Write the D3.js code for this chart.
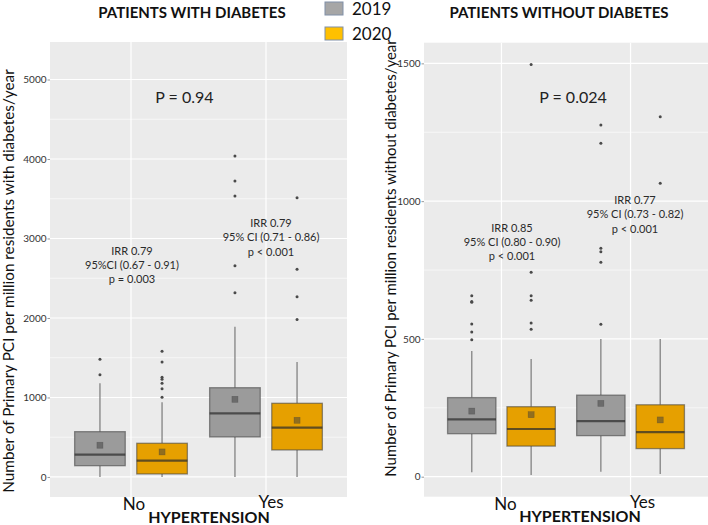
<!DOCTYPE html>
<html><head><meta charset="utf-8">
<script src="https://cdn.jsdelivr.net/npm/d3@7"></script>
<style>body{margin:0;background:#fff}svg{display:block}text{font-family:Lato,"Open Sans",sans-serif}</style>
</head><body><svg id="c" width="708" height="525"></svg>
<script>
const categories = ["No", "Yes"];
const years = ["2019", "2020"];
const yearColors = ["#9b9b9b", "#e6a000"];
const legendColors = ["#a6a6a6", "#ffc000"];

// Patients with diabetes: [No, Yes] per year
const diab2019 = [
  {lo: 0, q1: 142, med: 281, q3: 570, hi: 1180, mean: 399},
  {lo: 0, q1: 503, med: 801, q3: 1123, hi: 1891, mean: 977}
];
const diab2020 = [
  {lo: 0, q1: 38, med: 205, q3: 424, hi: 940, mean: 315},
  {lo: 0, q1: 340, med: 620, q3: 927, hi: 1447, mean: 713}
];
const diabOut2019 = [[1480, 1287], [4038, 3723, 3535, 2658, 2318]];
const diabOut2020 = [[1581, 1447, 1254, 1229, 1179, 1111, 1002], [3513, 2613, 2268, 1980]];
const diabTicks = [0, 1000, 2000, 3000, 4000, 5000];

// Patients without diabetes
const nodiab2019 = [
  {lo: 16, q1: 156, med: 208, q3: 287, hi: 456, mean: 238},
  {lo: 18, q1: 149, med: 202, q3: 296, hi: 500, mean: 266}
];
const nodiab2020 = [
  {lo: 6, q1: 111, med: 173, q3: 254, hi: 427, mean: 225},
  {lo: 10, q1: 102, med: 162, q3: 261, hi: 500, mean: 206}
];
const nodiabOut2019 = [[657, 636, 633, 554, 525, 497], [1276, 1210, 829, 816, 778, 553]];
const nodiabOut2020 = [[1496, 742, 657, 640, 558, 535], [1306, 1065]];
const nodiabTicks = [0, 500, 1000, 1500];

const titles = ["PATIENTS WITH DIABETES", "PATIENTS WITHOUT DIABETES"];
const yTitles = ["Number of Primary PCI per million residents with diabetes/year",
                 "Number of Primary PCI per million residents without diabetes/year"];
const pTexts = ["P = 0.94", "P = 0.024"];
const irrDiab = [["IRR 0.79", "95%CI (0.67 - 0.91)", "p =  0.003"], ["IRR 0.79", "95% CI (0.71 - 0.86)", "p < 0.001"]];
const irrNoDiab = [["IRR 0.85", "95% CI (0.80 - 0.90)", "p <  0.001"], ["IRR 0.77", "95% CI (0.73 - 0.82)", "p < 0.001"]];
const xTitle = "HYPERTENSION";

const svg = d3.select("#c");

function panel(cfg) {
  const g = svg.append("g");
  const x = d3.scalePoint().domain(categories).range([cfg.x0, cfg.x1]).padding(0.6);
  const y = d3.scaleLinear().domain(cfg.yDomain).range([cfg.y1, cfg.y0]);
  const step = x.step();
  g.append("rect").attr("x", cfg.x0).attr("y", cfg.y0).attr("width", cfg.x1 - cfg.x0)
    .attr("height", cfg.y1 - cfg.y0).attr("fill", "#ebebeb");
  g.selectAll(".mg").data(cfg.minor).join("line")
    .attr("x1", cfg.x0).attr("x2", cfg.x1).attr("y1", d => y(d)).attr("y2", d => y(d))
    .attr("stroke", "#fff").attr("stroke-width", 0.6);
  g.selectAll(".Mg").data(cfg.ticks).join("line")
    .attr("x1", cfg.x0).attr("x2", cfg.x1).attr("y1", d => y(d)).attr("y2", d => y(d))
    .attr("stroke", "#fff").attr("stroke-width", 1.2);
  g.selectAll(".vg").data(categories).join("line")
    .attr("x1", d => x(d)).attr("x2", d => x(d)).attr("y1", cfg.y0).attr("y2", cfg.y1)
    .attr("stroke", "#fff").attr("stroke-width", 1.2);
  const ax = g.append("g").attr("transform", `translate(${cfg.x0},0)`)
    .call(d3.axisLeft(y).tickValues(cfg.ticks).tickFormat(d3.format("d")).tickSize(2.5).tickPadding(1));
  ax.select(".domain").remove();
  ax.selectAll("line").attr("stroke", "#999");
  ax.selectAll("text").attr("font-size", 10).attr("fill", "#333").style("font-family", "Lato, sans-serif");

  const off = 0.23 * step, bw = 0.375 * step;
  [cfg.s2019, cfg.s2020].forEach((stats, yi) => {
    const outs = yi === 0 ? cfg.o2019 : cfg.o2020;
    stats.forEach((s, ci) => {
      const cx = x(categories[ci]) + (yi === 0 ? -off : off);
      const bg = g.append("g");
      bg.append("line").attr("x1", cx).attr("x2", cx).attr("y1", y(s.q3)).attr("y2", y(s.hi))
        .attr("stroke", "#8a8a8a").attr("stroke-width", 1.4);
      bg.append("line").attr("x1", cx).attr("x2", cx).attr("y1", y(s.q1)).attr("y2", y(s.lo))
        .attr("stroke", "#8a8a8a").attr("stroke-width", 1.4);
      bg.append("rect").attr("x", cx - bw / 2).attr("y", y(s.q3)).attr("width", bw)
        .attr("height", y(s.q1) - y(s.q3)).attr("fill", yearColors[yi])
        .attr("stroke", "rgba(60,60,60,0.55)").attr("stroke-width", 1.3);
      bg.append("line").attr("x1", cx - bw / 2).attr("x2", cx + bw / 2)
        .attr("y1", y(s.med)).attr("y2", y(s.med))
        .attr("stroke", "rgba(45,45,45,0.72)").attr("stroke-width", 2.2);
      bg.append("rect").attr("x", cx - 3).attr("y", y(s.mean) - 3).attr("width", 6).attr("height", 6)
        .attr("fill", "rgba(60,60,60,0.5)").attr("stroke", "rgba(60,60,60,0.4)").attr("stroke-width", 0.6);
      bg.selectAll("circle").data(outs[ci]).join("circle")
        .attr("cx", cx).attr("cy", d => y(d)).attr("r", 1.5).attr("fill", "#4a4a4a");
    });
  });
  svg.append("text").attr("x", (cfg.x0 + cfg.x1) / 2 + cfg.pdx).attr("y", 103)
    .attr("text-anchor", "middle").attr("font-size", 16).attr("fill", "#222").text(cfg.p);
  cfg.irr.forEach((lines, ci) => {
    lines.forEach((t, li) => {
      svg.append("text").attr("x", cfg.irrX[ci]).attr("y", cfg.irrY[ci] + li * cfg.irrGap[ci])
        .attr("dominant-baseline", "central").attr("text-anchor", "middle")
        .attr("font-size", 11).attr("fill", "#2a2a2a").text(t);
    });
  });
  svg.append("text").attr("x", cfg.titleX).attr("y", 18).attr("text-anchor", "middle")
    .attr("font-size", 15).attr("font-weight", "bold").attr("fill", "#111").text(cfg.title);
  svg.append("text").attr("transform", `translate(${cfg.ytX},${cfg.ytY}) rotate(-90)`)
    .attr("text-anchor", "middle").attr("font-size", cfg.ytSize).attr("fill", "#111").text(cfg.yTitle);
  categories.forEach((c, ci) => {
    svg.append("text").attr("x", x(c) + cfg.labDx[ci]).attr("y", cfg.labY[ci])
      .attr("text-anchor", "middle").attr("font-size", 17).attr("fill", "#111").text(c);
  });
  svg.append("text").attr("x", cfg.xtX).attr("y", cfg.xtY).attr("text-anchor", "middle")
    .attr("font-size", 16).attr("font-weight", "bold").attr("fill", "#111").text(xTitle);
}

panel({
  x0: 50, x1: 347, y0: 42, y1: 497, yDomain: [-252, 5472],
  ticks: diabTicks, minor: [500, 1500, 2500, 3500, 4500],
  s2019: diab2019, s2020: diab2020, o2019: diabOut2019, o2020: diabOut2020,
  p: pTexts[0], pdx: -14, irr: irrDiab, irrX: [132, 271], irrY: [250, 222], irrGap: [14, 14.6],
  title: titles[0], titleX: 192, yTitle: yTitles[0], ytX: 14, ytY: 281, ytSize: 15.3,
  labDx: [3, 5], labY: [510, 508], xtX: 209, xtY: 523
});
panel({
  x0: 424, x1: 708, y0: 42.7, y1: 496.7, yDomain: [-72.6, 1575],
  ticks: nodiabTicks, minor: [250, 750, 1250],
  s2019: nodiab2019, s2020: nodiab2020, o2019: nodiabOut2019, o2020: nodiabOut2020,
  p: pTexts[1], pdx: 7, irr: irrNoDiab, irrX: [512, 635], irrY: [227, 199], irrGap: [14.2, 14.7],
  title: titles[1], titleX: 559, yTitle: yTitles[1], ytX: 396, ytY: 258, ytSize: 15,
  labDx: [4, 12], labY: [510, 508], xtX: 580, xtY: 522
});

years.forEach((yv, i) => {
  svg.append("rect").attr("x", 325).attr("y", 2 + i * 25).attr("width", 18).attr("height", 13)
    .attr("fill", legendColors[i]).attr("stroke", "#8090a8").attr("stroke-width", 1);
  svg.append("text").attr("x", 352).attr("y", 15 + i * 25).attr("font-size", 17)
    .attr("fill", "#111").text(yv);
});
</script></body></html>
